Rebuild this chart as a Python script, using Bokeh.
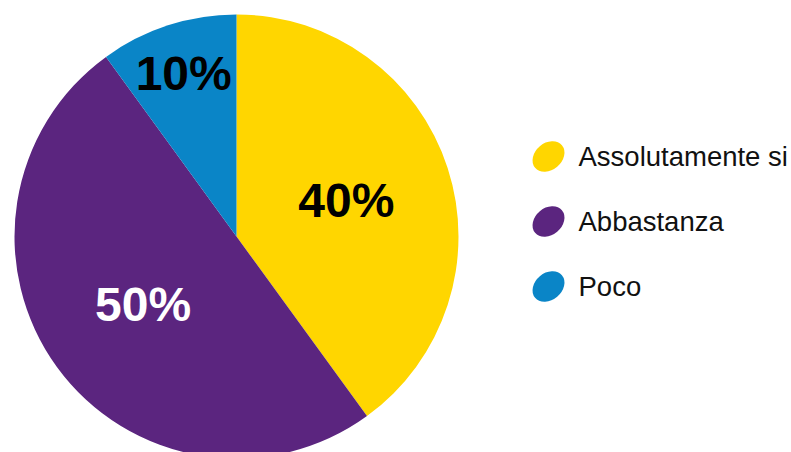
import math
from bokeh.plotting import figure
from bokeh.models import Range1d, ColumnDataSource
from bokeh.core.properties import value
from bokeh.embed import file_html
from bokeh.resources import INLINE

# data
categories = ["Assolutamente si", "Abbastanza", "Poco"]
shares = [40, 50, 10]
colors = ["#FFD600", "#5B257F", "#0A85C7"]
label_colors = ["#000000", "#FFFFFF", "#000000"]
label_radius_frac = [0.52, 0.52, 0.77]

W, H = 791, 452
p = figure(width=W, height=H, output_backend="svg", toolbar_location=None,
           x_range=Range1d(0, W), y_range=Range1d(0, H), min_border=0)
p.axis.visible = False
p.grid.visible = False
p.outline_line_color = None
p.background_fill_color = "white"

cx, cy, r = 236, 216, 222
total = sum(shares)
# clockwise from top
starts, ends, mids = [], [], []
a = math.pi / 2
for s in shares:
    sweep = 2 * math.pi * s / total
    end_a = a
    start_a = a - sweep
    starts.append(start_a)
    ends.append(end_a)
    mids.append((start_a + end_a) / 2)
    a = start_a

src = ColumnDataSource(dict(start=starts, end=ends, color=colors))
p.wedge(x=cx, y=cy, radius=r, start_angle="start", end_angle="end",
        fill_color="color", line_color=None, source=src)

lx = [cx + f * r * math.cos(m) for f, m in zip(label_radius_frac, mids)]
ly = [cy + f * r * math.sin(m) for f, m in zip(label_radius_frac, mids)]
labels = [f"{s}%" for s in shares]
p.text(x=lx, y=ly, text=labels, text_color=label_colors,
       text_font=value("Liberation Sans"), text_font_style="bold",
       text_font_size="48px", text_align="center", text_baseline="middle")

# legend
leg_x, leg_y0, leg_dy = 548, 296, 65
bx = [leg_x] * len(categories)
by = [leg_y0 - i * leg_dy for i in range(len(categories))]
p.ellipse(x=bx, y=by, width=35, height=27, angle=math.radians(40),
          fill_color=colors, line_color=None)
p.text(x=[leg_x + 30] * len(categories), y=by, text=categories,
       text_color="#111111", text_font=value("Liberation Sans"),
       text_font_size="27.5px", text_align="left", text_baseline="middle")

open("out.html", "w").write(file_html(p, INLINE))
